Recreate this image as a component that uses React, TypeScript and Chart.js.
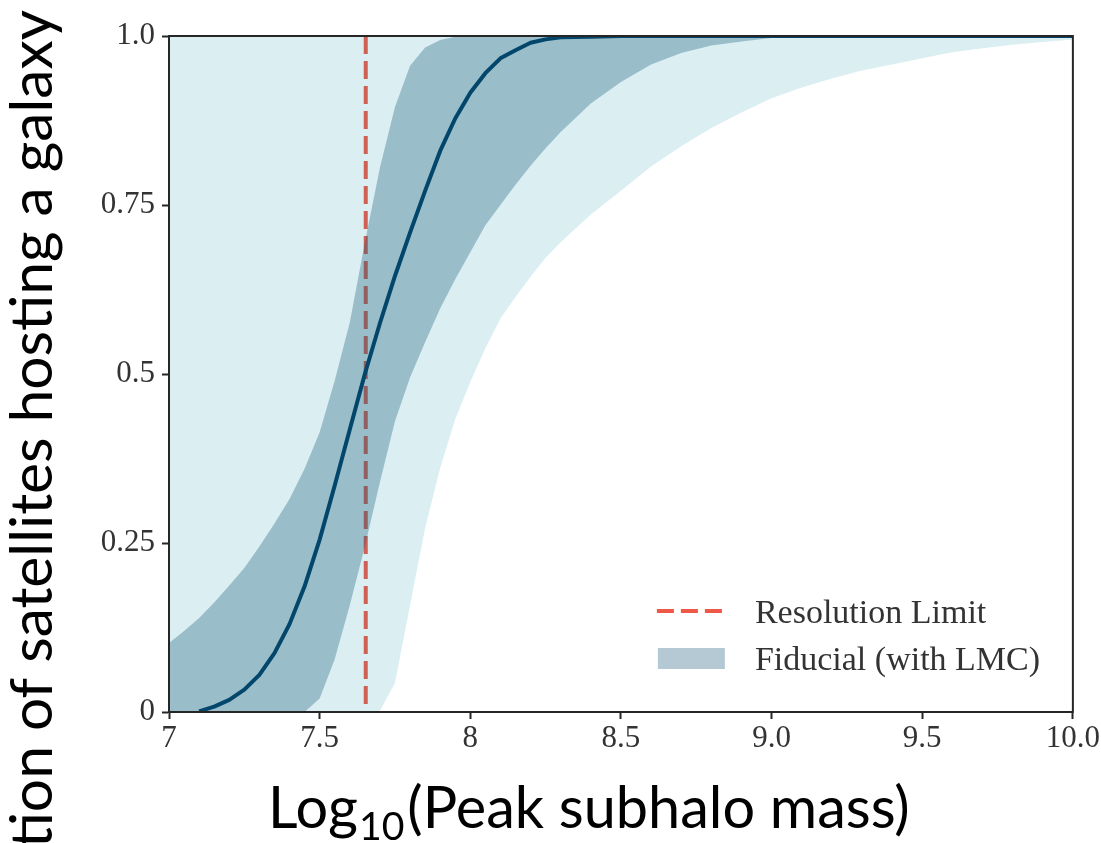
import React, { useEffect, useRef } from "react";
import { Chart, registerables } from "chart.js";

Chart.register(...registerables);

// ---------- data ----------
const massGrid = [
  7.0, 7.05, 7.1, 7.15, 7.2, 7.25, 7.3, 7.35, 7.4, 7.45, 7.5, 7.55, 7.6, 7.65,
  7.7, 7.75, 7.8, 7.85, 7.9, 7.95, 8.0, 8.05, 8.1, 8.15, 8.2, 8.25, 8.3,
  8.4, 8.5, 8.6, 8.7, 8.8, 8.9, 9.0, 9.1, 9.2, 9.3, 9.4, 9.5, 9.6, 9.7, 9.8, 9.9, 10.0,
];

const medianFraction = [
  null, null, 0.001, 0.008, 0.018, 0.033, 0.055, 0.087, 0.13, 0.186, 0.255, 0.335, 0.418, 0.5,
  0.575, 0.645, 0.709, 0.771, 0.83, 0.878, 0.916, 0.945, 0.967, 0.979, 0.99, 0.995, 0.998,
  0.999, 1, 1, 1, 1, 1, 1, 1, 1, 1, 1, 1, 1, 1, 1, 1, 1,
];

const innerUpper = [
  0.102, 0.12, 0.139, 0.162, 0.187, 0.213, 0.245, 0.279, 0.315, 0.36, 0.414, 0.49, 0.576, 0.694,
  0.805, 0.895, 0.956, 0.983, 0.994, 0.999, 1, 1, 1, 1, 1, 1, 1,
  1, 1, 1, 1, 1, 1, 1, 1, 1, 1, 1, 1, 1, 1, 1, 1, 1,
];

const innerLower = [
  0, 0, 0, 0, 0, 0, 0, 0, 0, 0, 0.02, 0.078, 0.158, 0.245,
  0.34, 0.43, 0.495, 0.547, 0.597, 0.64, 0.68, 0.72, 0.75, 0.78, 0.808, 0.834, 0.858,
  0.9, 0.932, 0.958, 0.975, 0.986, 0.992, 0.997, 0.999, 1, 1, 1, 1, 1, 1, 1, 1, 1,
];

const outerUpper = [
  1, 1, 1, 1, 1, 1, 1, 1, 1, 1, 1, 1, 1, 1,
  1, 1, 1, 1, 1, 1, 1, 1, 1, 1, 1, 1, 1,
  1, 1, 1, 1, 1, 1, 1, 1, 1, 1, 1, 1, 1, 1, 1, 1, 1,
];

const outerLower = [
  0, 0, 0, 0, 0, 0, 0, 0, 0, 0, 0, 0, 0, 0,
  0.002, 0.043, 0.158, 0.272, 0.361, 0.433, 0.488, 0.538, 0.582, 0.614, 0.644, 0.672, 0.695,
  0.736, 0.771, 0.807, 0.837, 0.864, 0.887, 0.908, 0.924, 0.937, 0.949, 0.958, 0.967, 0.976, 0.982, 0.987, 0.991, 0.995,
];

const resolutionLimit = 7.653;

const xTickValues = [7, 7.5, 8, 8.5, 9, 9.5, 10];
const xTickLabels = ["7", "7.5", "8", "8.5", "9.0", "9.5", "10.0"];
const yTickValues = [0, 0.25, 0.5, 0.75, 1];
const yTickLabels = ["0", "0.25", "0.5", "0.75", "1.0"];

const legendLabels = ["Resolution Limit", "Fiducial (with LMC)"];
const xTitleParts = ["Log", "10", "(Peak subhalo mass)"];
const yTitle = "Fraction of satellites hosting a galaxy";

// ---------- styles ----------
const LIGHT_BAND = "#dbeef2";
const DARK_BAND = "rgba(20, 90, 120, 0.33)";
const LINE_COLOR = "#03466b";
const RED_PLOT = "rgba(205, 70, 55, 0.85)";
const RED_LEGEND = "#ef5846";
const PATCH_LEGEND = "#b4c9d3";
const TEXT_COLOR = "#333333";
const FRAME_COLOR = "#262626";
const SERIF = "'Liberation Serif', 'Times New Roman', serif";
const SANS = "Lato, 'Noto Sans', sans-serif";

const pts = (arr: (number | null)[]) => massGrid.map((m, i) => ({ x: m, y: arr[i] }));

const decorPlugin = {
  id: "decor",
  afterDraw(chart: any) {
    const { ctx, chartArea } = chart;
    const { left, right, top, bottom } = chartArea;
    ctx.save();

    // frame
    ctx.strokeStyle = FRAME_COLOR;
    ctx.lineWidth = 2;
    ctx.setLineDash([]);
    ctx.strokeRect(left, top, right - left, bottom - top);

    // legend
    const hx = right - 416;
    const y1 = bottom - 101;
    const y2 = bottom - 52;
    ctx.strokeStyle = RED_LEGEND;
    ctx.lineWidth = 4;
    ctx.setLineDash([17, 7]);
    ctx.beginPath();
    ctx.moveTo(hx, y1);
    ctx.lineTo(hx + 67, y1);
    ctx.stroke();
    ctx.setLineDash([]);
    ctx.fillStyle = PATCH_LEGEND;
    ctx.fillRect(hx + 1, y2 - 12, 67, 21);
    ctx.fillStyle = TEXT_COLOR;
    ctx.font = `34px ${SERIF}`;
    ctx.textAlign = "left";
    ctx.textBaseline = "alphabetic";
    ctx.fillText(legendLabels[0], hx + 98, y1 + 12);
    ctx.fillText(legendLabels[1], hx + 98, y2 + 10);

    // x title with subscript, fitted to reference width
    ctx.fillStyle = "#000000";
    const base = 56;
    ctx.font = `${base}px ${SANS}`;
    const w0 = ctx.measureText(xTitleParts[0]).width;
    const w2 = ctx.measureText(xTitleParts[2]).width;
    ctx.font = `${base * 0.68}px ${SANS}`;
    const w1 = ctx.measureText(xTitleParts[1]).width;
    const k = 642 / (w0 + w1 + w2 + 4);
    const S = base * k;
    let x = 268;
    const by = 828;
    ctx.font = `${S}px ${SANS}`;
    ctx.fillText(xTitleParts[0], x, by);
    x += w0 * k + 1;
    ctx.font = `${S * 0.68}px ${SANS}`;
    ctx.fillText(xTitleParts[1], x, by + 12);
    x += w1 * k + 3;
    ctx.font = `${S}px ${SANS}`;
    ctx.fillText(xTitleParts[2], x, by);

    // y title, rotated, fitted so "satellites ... galaxy" spans reference length
    ctx.font = `${base}px ${SANS}`;
    const tail = yTitle.slice(yTitle.indexOf("satellites"));
    const wt = ctx.measureText(tail).width;
    const Sy = base * (653 / wt);
    ctx.translate(52, 10);
    ctx.rotate(-Math.PI / 2);
    ctx.font = `${Sy}px ${SANS}`;
    ctx.textAlign = "right";
    ctx.fillText(yTitle, 0, 0);

    ctx.restore();
  },
};

export default function App() {
  const canvasRef = useRef<HTMLCanvasElement | null>(null);

  useEffect(() => {
    if (!canvasRef.current) return;
    const hidden = { borderColor: "rgba(0,0,0,0)", borderWidth: 0, pointRadius: 0, fill: false };
    const chart = new Chart(canvasRef.current, {
      type: "line",
      data: {
        datasets: [
          { ...hidden, label: "outerLower", data: pts(outerLower), order: 6 },
          {
            ...hidden,
            label: "outerUpper",
            data: pts(outerUpper),
            fill: "-1",
            backgroundColor: LIGHT_BAND,
            order: 6,
          },
          {
            label: legendLabels[0],
            data: [
              { x: resolutionLimit, y: 1 },
              { x: resolutionLimit, y: 0 },
            ],
            borderColor: RED_PLOT,
            borderWidth: 4,
            borderDash: [18, 7],
            borderCapStyle: "butt",
            pointRadius: 0,
            fill: false,
            order: 5,
          },
          { ...hidden, label: "innerLower", data: pts(innerLower), order: 4 },
          {
            ...hidden,
            label: legendLabels[1],
            data: pts(innerUpper),
            fill: "-1",
            backgroundColor: DARK_BAND,
            order: 4,
          },
          {
            label: "median",
            data: pts(medianFraction),
            borderColor: LINE_COLOR,
            borderWidth: 4,
            pointRadius: 0,
            fill: false,
            tension: 0,
            borderJoinStyle: "round",
            order: 1,
          },
        ],
      },
      options: {
        animation: false,
        responsive: false,
        events: [],
        layout: { padding: { left: 89, right: 28, top: 36, bottom: 81 } },
        plugins: { legend: { display: false }, tooltip: { enabled: false } },
        scales: {
          x: {
            type: "linear",
            min: 7,
            max: 10,
            afterBuildTicks: (s: any) => {
              s.ticks = xTickValues.map((v) => ({ value: v }));
            },
            afterFit: (s: any) => {
              s.height = 50;
            },
            ticks: {
              callback: (v: any) => xTickLabels[xTickValues.indexOf(Number(v))] ?? "",
              font: { family: SERIF, size: 31 },
              color: TEXT_COLOR,
              padding: 1,
              maxRotation: 0,
              autoSkip: false,
            },
            grid: {
              drawOnChartArea: false,
              drawTicks: true,
              tickLength: 7,
              tickWidth: 2,
              tickColor: FRAME_COLOR,
            },
            border: { display: true, color: FRAME_COLOR, width: 2 },
          },
          y: {
            type: "linear",
            min: 0,
            max: 1,
            afterBuildTicks: (s: any) => {
              s.ticks = yTickValues.map((v) => ({ value: v }));
            },
            afterFit: (s: any) => {
              s.width = 80;
            },
            ticks: {
              callback: (v: any) => yTickLabels[yTickValues.indexOf(Number(v))] ?? "",
              font: { family: SERIF, size: 31 },
              color: TEXT_COLOR,
              padding: 7,
              autoSkip: false,
            },
            grid: {
              drawOnChartArea: false,
              drawTicks: true,
              tickLength: 7,
              tickWidth: 2,
              tickColor: FRAME_COLOR,
            },
            border: { display: true, color: FRAME_COLOR, width: 2 },
          },
        },
      },
      plugins: [decorPlugin],
    } as any);
    return () => chart.destroy();
  }, []);

  return (
    <div style={{ position: "fixed", left: 0, top: 0, width: 1101, height: 843, background: "#ffffff" }}>
      <canvas ref={canvasRef} width={1101} height={843} style={{ display: "block" }} />
    </div>
  );
}
